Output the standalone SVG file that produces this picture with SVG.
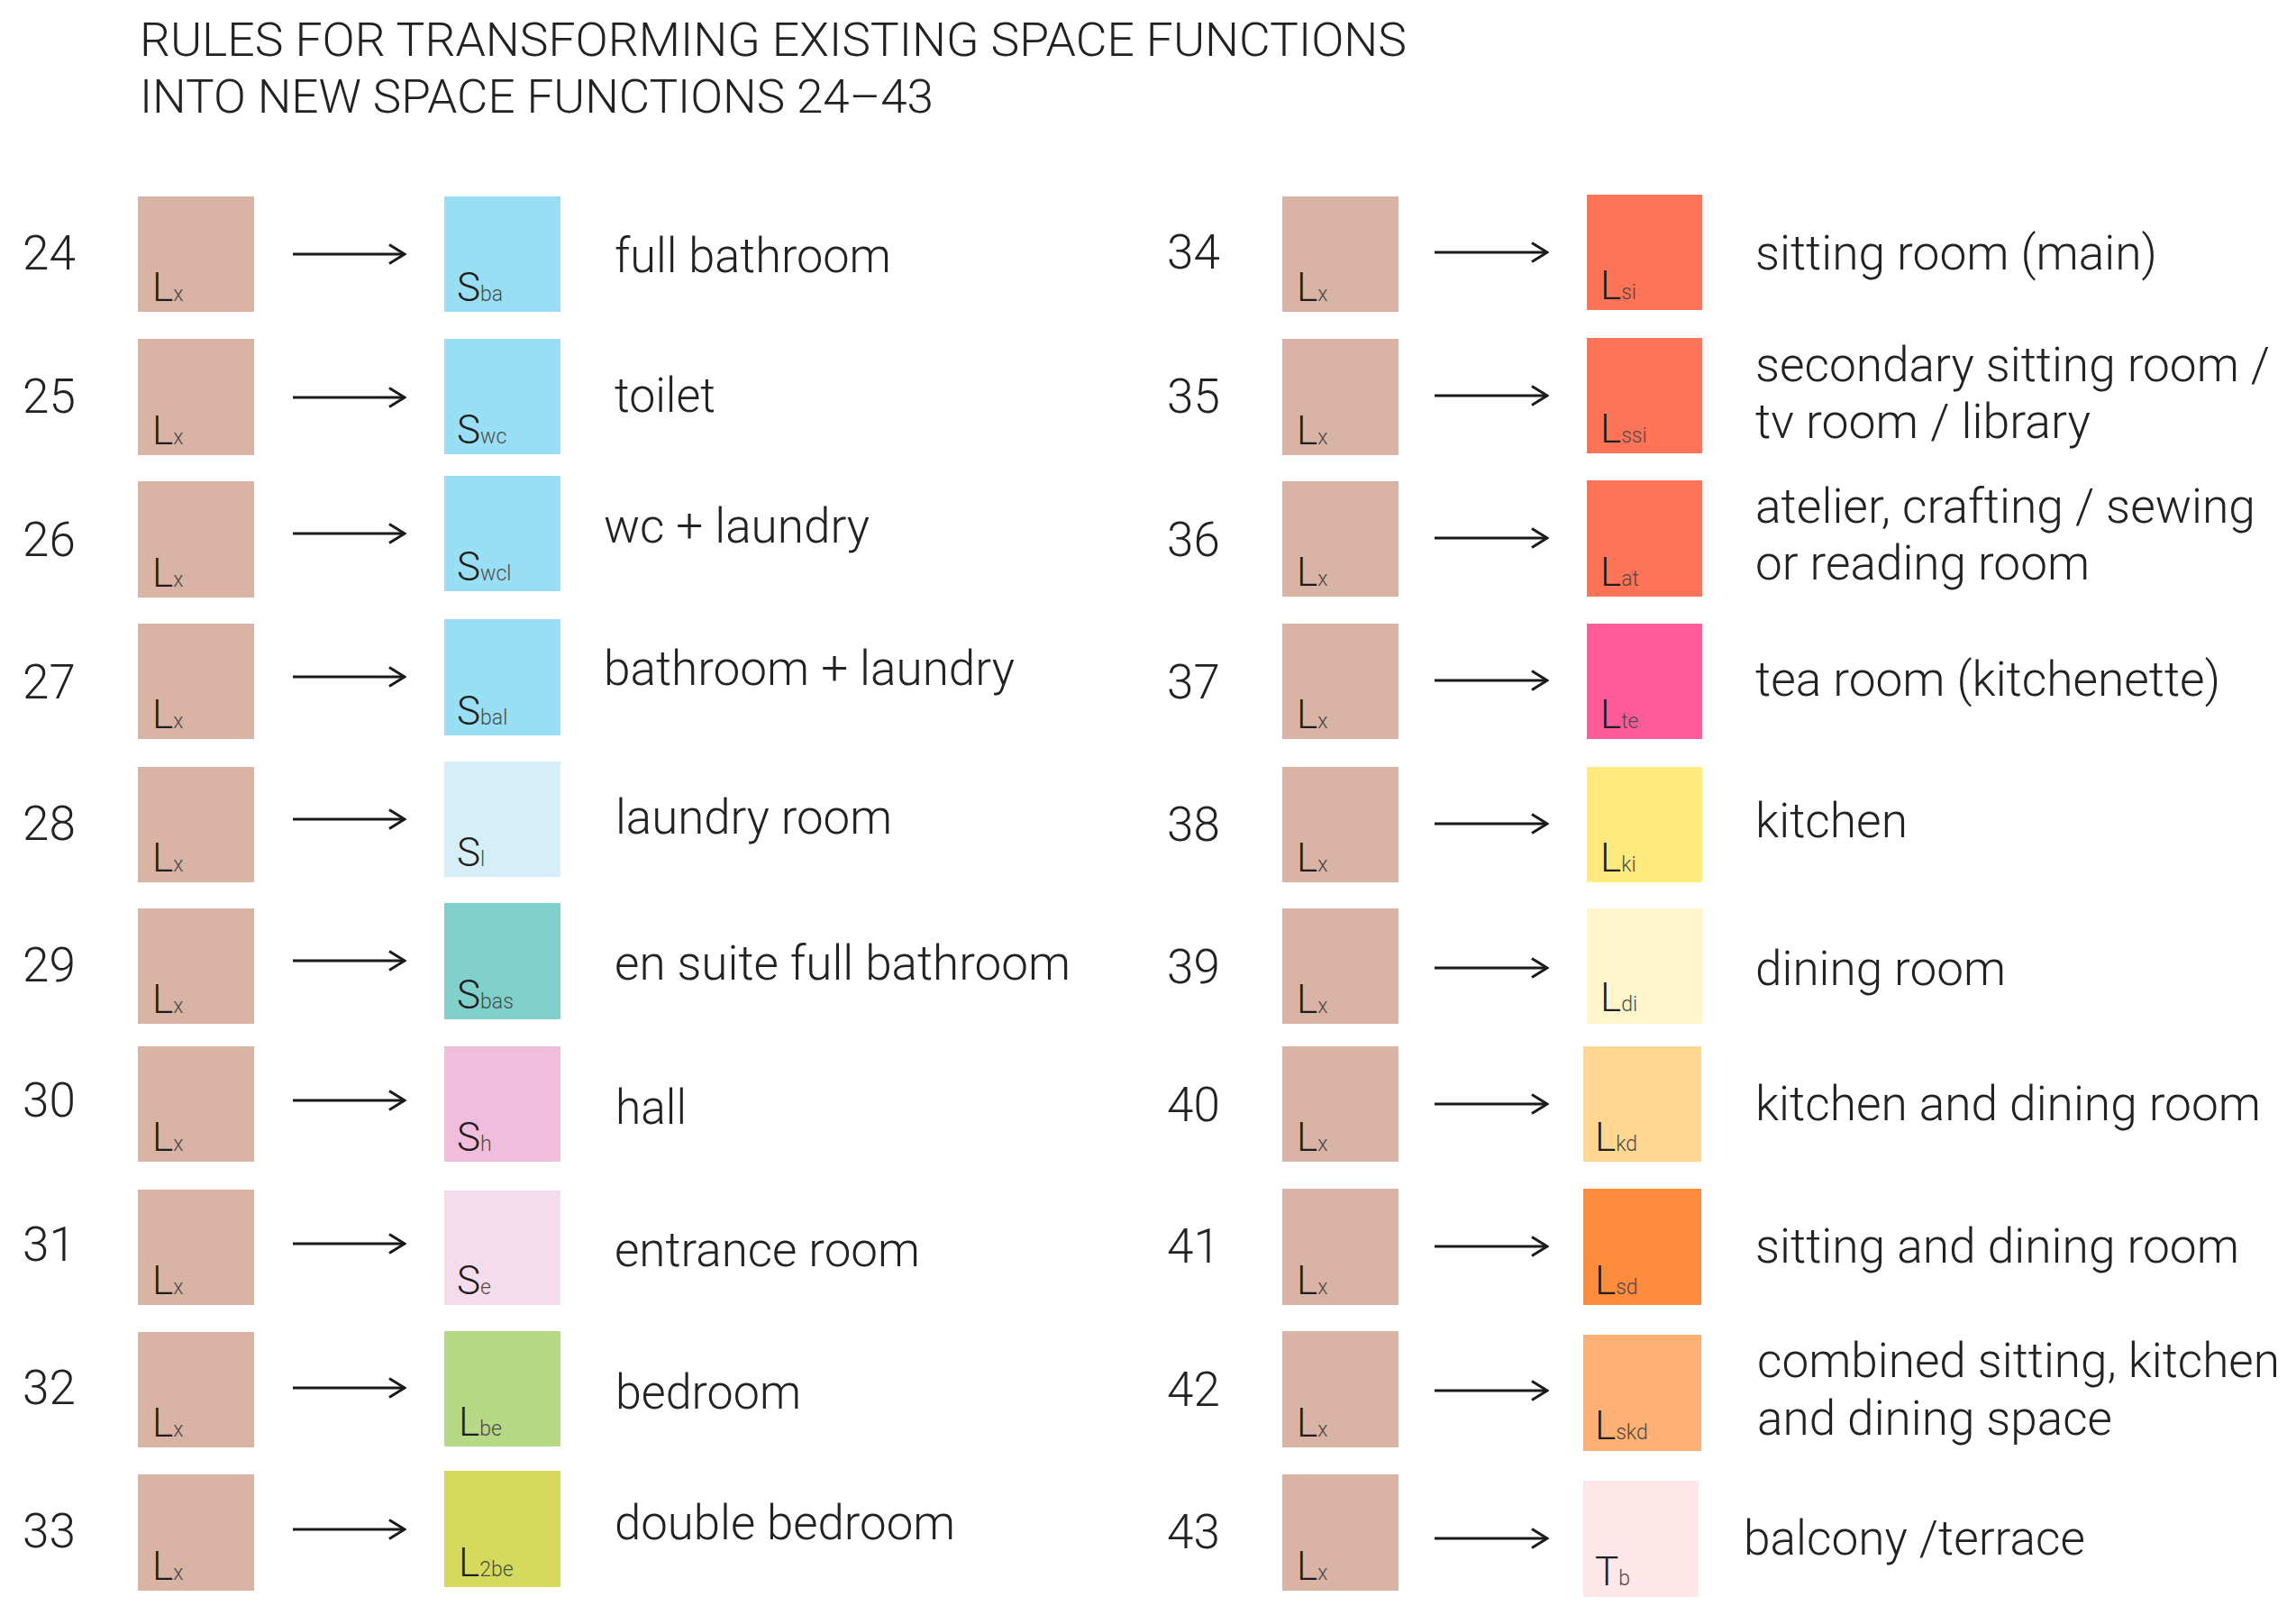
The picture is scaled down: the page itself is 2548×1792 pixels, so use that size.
<svg xmlns="http://www.w3.org/2000/svg" width="2548" height="1792" viewBox="0 0 2548 1792">
<style>
.bg{fill:#ffffff}
.t{font-family:Roboto,"Liberation Sans",sans-serif;font-weight:300;font-size:52px;fill:#222}
.n{font-family:Roboto,"Liberation Sans",sans-serif;font-weight:300;font-size:53px;fill:#222}
.d{font-family:Roboto,"Liberation Sans",sans-serif;font-weight:300;font-size:53px;fill:#222}
.lab{font-family:Roboto,"Liberation Sans",sans-serif;font-weight:300;font-size:44px;fill:#1e1e1e}
.sub{font-size:23px;fill:#4a4a4a}
.lx{fill:#d9b3a3}
.blue{fill:#98dff5}
.arrow{stroke:#1a1a1a;stroke-width:3;fill:none}
</style>
<defs>
<marker id="ah" markerUnits="userSpaceOnUse" viewBox="-20 -13 22 26" refX="0" refY="0" markerWidth="22" markerHeight="26" orient="auto">
<path d="M-17,-10.5 L0,0 L-17,10.5" fill="none" stroke="#1a1a1a" stroke-width="3" stroke-linejoin="miter"/>
</marker>
</defs>
<rect class="bg" x="0" y="0" width="2548" height="1792"/>
<g id="title">
<text class="t" x="155" y="62" textLength="1406" lengthAdjust="spacingAndGlyphs">RULES FOR TRANSFORMING EXISTING SPACE FUNCTIONS</text>
<text class="t" x="155" y="125" textLength="881" lengthAdjust="spacingAndGlyphs">INTO NEW SPACE FUNCTIONS 24–43</text>
</g>
<g id="connectors">
<line class="arrow" x1="325" y1="282" x2="449" y2="282" marker-end="url(#ah)"/>
<line class="arrow" x1="325" y1="441" x2="449" y2="441" marker-end="url(#ah)"/>
<line class="arrow" x1="325" y1="592" x2="449" y2="592" marker-end="url(#ah)"/>
<line class="arrow" x1="325" y1="751" x2="449" y2="751" marker-end="url(#ah)"/>
<line class="arrow" x1="325" y1="909" x2="449" y2="909" marker-end="url(#ah)"/>
<line class="arrow" x1="325" y1="1066" x2="449" y2="1066" marker-end="url(#ah)"/>
<line class="arrow" x1="325" y1="1221" x2="449" y2="1221" marker-end="url(#ah)"/>
<line class="arrow" x1="325" y1="1380" x2="449" y2="1380" marker-end="url(#ah)"/>
<line class="arrow" x1="325" y1="1540" x2="449" y2="1540" marker-end="url(#ah)"/>
<line class="arrow" x1="325" y1="1697" x2="449" y2="1697" marker-end="url(#ah)"/>
<line class="arrow" x1="1592" y1="280" x2="1717" y2="280" marker-end="url(#ah)"/>
<line class="arrow" x1="1592" y1="439" x2="1717" y2="439" marker-end="url(#ah)"/>
<line class="arrow" x1="1592" y1="597" x2="1717" y2="597" marker-end="url(#ah)"/>
<line class="arrow" x1="1592" y1="755" x2="1717" y2="755" marker-end="url(#ah)"/>
<line class="arrow" x1="1592" y1="914" x2="1717" y2="914" marker-end="url(#ah)"/>
<line class="arrow" x1="1592" y1="1074" x2="1717" y2="1074" marker-end="url(#ah)"/>
<line class="arrow" x1="1592" y1="1225" x2="1717" y2="1225" marker-end="url(#ah)"/>
<line class="arrow" x1="1592" y1="1383" x2="1717" y2="1383" marker-end="url(#ah)"/>
<line class="arrow" x1="1592" y1="1543" x2="1717" y2="1543" marker-end="url(#ah)"/>
<line class="arrow" x1="1592" y1="1707" x2="1717" y2="1707" marker-end="url(#ah)"/>
</g>

<g id="rule24">
<text class="n" x="25" y="299">24</text>
<rect class="lx" x="153" y="218" width="129" height="128"/>
<text class="lab" x="169" y="334">L<tspan class="sub">x</tspan></text>
<rect class="blue" x="493" y="218" width="129" height="128"/>
<text class="lab" x="507" y="334">S<tspan class="sub">ba</tspan></text>
<text class="d" x="682" y="302" textLength="307" lengthAdjust="spacingAndGlyphs">full bathroom</text>
</g>
<g id="rule25">
<text class="n" x="25" y="458">25</text>
<rect class="lx" x="153" y="376" width="129" height="129"/>
<text class="lab" x="169" y="493">L<tspan class="sub">x</tspan></text>
<rect class="blue" x="493" y="376" width="129" height="128"/>
<text class="lab" x="507" y="492">S<tspan class="sub">wc</tspan></text>
<text class="d" x="682" y="457" textLength="112" lengthAdjust="spacingAndGlyphs">toilet</text>
</g>
<g id="rule26">
<text class="n" x="25" y="617">26</text>
<rect class="lx" x="153" y="534" width="129" height="129"/>
<text class="lab" x="169" y="651">L<tspan class="sub">x</tspan></text>
<rect class="blue" x="493" y="528" width="129" height="128"/>
<text class="lab" x="507" y="644">S<tspan class="sub">wcl</tspan></text>
<text class="d" x="670" y="602" textLength="295" lengthAdjust="spacingAndGlyphs">wc + laundry</text>
</g>
<g id="rule27">
<text class="n" x="25" y="775">27</text>
<rect class="lx" x="153" y="692" width="129" height="128"/>
<text class="lab" x="169" y="808">L<tspan class="sub">x</tspan></text>
<rect class="blue" x="493" y="687" width="129" height="129"/>
<text class="lab" x="507" y="804">S<tspan class="sub">bal</tspan></text>
<text class="d" x="670" y="760" textLength="456" lengthAdjust="spacingAndGlyphs">bathroom + laundry</text>
</g>
<g id="rule28">
<text class="n" x="25" y="932">28</text>
<rect class="lx" x="153" y="851" width="129" height="128"/>
<text class="lab" x="169" y="967">L<tspan class="sub">x</tspan></text>
<rect x="493" y="845" width="129" height="128" fill="#d5eef8"/>
<text class="lab" x="507" y="961">S<tspan class="sub">l</tspan></text>
<text class="d" x="683" y="925" textLength="307" lengthAdjust="spacingAndGlyphs">laundry room</text>
</g>
<g id="rule29">
<text class="n" x="25" y="1089">29</text>
<rect class="lx" x="153" y="1008" width="129" height="128"/>
<text class="lab" x="169" y="1124">L<tspan class="sub">x</tspan></text>
<rect x="493" y="1002" width="129" height="129" fill="#80d0cb"/>
<text class="lab" x="507" y="1119">S<tspan class="sub">bas</tspan></text>
<text class="d" x="682" y="1087" textLength="506" lengthAdjust="spacingAndGlyphs">en suite full bathroom</text>
</g>
<g id="rule30">
<text class="n" x="25" y="1239">30</text>
<rect class="lx" x="153" y="1161" width="129" height="128"/>
<text class="lab" x="169" y="1277">L<tspan class="sub">x</tspan></text>
<rect x="493" y="1161" width="129" height="128" fill="#f0bedc"/>
<text class="lab" x="507" y="1277">S<tspan class="sub">h</tspan></text>
<text class="d" x="683" y="1247" textLength="79" lengthAdjust="spacingAndGlyphs">hall</text>
</g>
<g id="rule31">
<text class="n" x="25" y="1399">31</text>
<rect class="lx" x="153" y="1320" width="129" height="128"/>
<text class="lab" x="169" y="1436">L<tspan class="sub">x</tspan></text>
<rect x="493" y="1321" width="129" height="127" fill="#f5dcec"/>
<text class="lab" x="507" y="1436">S<tspan class="sub">e</tspan></text>
<text class="d" x="682" y="1405" textLength="339" lengthAdjust="spacingAndGlyphs">entrance room</text>
</g>
<g id="rule32">
<text class="n" x="25" y="1558">32</text>
<rect class="lx" x="153" y="1478" width="129" height="128"/>
<text class="lab" x="169" y="1594">L<tspan class="sub">x</tspan></text>
<rect x="493" y="1477" width="129" height="128" fill="#b6d985"/>
<text class="lab" x="509" y="1593">L<tspan class="sub">be</tspan></text>
<text class="d" x="683" y="1563" textLength="206" lengthAdjust="spacingAndGlyphs">bedroom</text>
</g>
<g id="rule33">
<text class="n" x="25" y="1717">33</text>
<rect class="lx" x="153" y="1636" width="129" height="129"/>
<text class="lab" x="169" y="1753">L<tspan class="sub">x</tspan></text>
<rect x="493" y="1632" width="129" height="129" fill="#d6da5c"/>
<text class="lab" x="509" y="1749">L<tspan class="sub">2be</tspan></text>
<text class="d" x="682" y="1708" textLength="378" lengthAdjust="spacingAndGlyphs">double bedroom</text>
</g>

<g id="rule34">
<text class="n" x="1295" y="298">34</text>
<rect class="lx" x="1423" y="218" width="129" height="128"/>
<text class="lab" x="1439" y="334">L<tspan class="sub">x</tspan></text>
<rect x="1761" y="216" width="128" height="128" fill="#ff7357"/>
<text class="lab" x="1776" y="332">L<tspan class="sub">si</tspan></text>
<text class="d" x="1948" y="299" textLength="446" lengthAdjust="spacingAndGlyphs">sitting room (main)</text>
</g>
<g id="rule35">
<text class="n" x="1295" y="458">35</text>
<rect class="lx" x="1423" y="376" width="129" height="129"/>
<text class="lab" x="1439" y="493">L<tspan class="sub">x</tspan></text>
<rect x="1761" y="375" width="128" height="128" fill="#ff7357"/>
<text class="lab" x="1776" y="491">L<tspan class="sub">ssi</tspan></text>
<text class="d" x="1948" y="423" textLength="571" lengthAdjust="spacingAndGlyphs">secondary sitting room /</text>
<text class="d" x="1948" y="486" textLength="372" lengthAdjust="spacingAndGlyphs">tv room / library</text>
</g>
<g id="rule36">
<text class="n" x="1295" y="617">36</text>
<rect class="lx" x="1423" y="534" width="129" height="128"/>
<text class="lab" x="1439" y="650">L<tspan class="sub">x</tspan></text>
<rect x="1761" y="533" width="128" height="129" fill="#ff7357"/>
<text class="lab" x="1776" y="650">L<tspan class="sub">at</tspan></text>
<text class="d" x="1948" y="580" textLength="555" lengthAdjust="spacingAndGlyphs">atelier, crafting / sewing</text>
<text class="d" x="1948" y="643" textLength="371" lengthAdjust="spacingAndGlyphs">or reading room</text>
</g>
<g id="rule37">
<text class="n" x="1295" y="775">37</text>
<rect class="lx" x="1423" y="692" width="129" height="128"/>
<text class="lab" x="1439" y="808">L<tspan class="sub">x</tspan></text>
<rect x="1761" y="692" width="128" height="128" fill="#ff5b98"/>
<text class="lab" x="1776" y="808">L<tspan class="sub">te</tspan></text>
<text class="d" x="1948" y="772" textLength="516" lengthAdjust="spacingAndGlyphs">tea room (kitchenette)</text>
</g>
<g id="rule38">
<text class="n" x="1295" y="933">38</text>
<rect class="lx" x="1423" y="851" width="129" height="128"/>
<text class="lab" x="1439" y="967">L<tspan class="sub">x</tspan></text>
<rect x="1761" y="851" width="128" height="128" fill="#ffea7d"/>
<text class="lab" x="1776" y="967">L<tspan class="sub">ki</tspan></text>
<text class="d" x="1948" y="929" textLength="169" lengthAdjust="spacingAndGlyphs">kitchen</text>
</g>
<g id="rule39">
<text class="n" x="1295" y="1091">39</text>
<rect class="lx" x="1423" y="1008" width="129" height="128"/>
<text class="lab" x="1439" y="1124">L<tspan class="sub">x</tspan></text>
<rect x="1761" y="1008" width="128" height="128" fill="#fff5cb"/>
<text class="lab" x="1776" y="1122">L<tspan class="sub">di</tspan></text>
<text class="d" x="1948" y="1093" textLength="278" lengthAdjust="spacingAndGlyphs">dining room</text>
</g>
<g id="rule40">
<text class="n" x="1295" y="1244">40</text>
<rect class="lx" x="1423" y="1161" width="129" height="128"/>
<text class="lab" x="1439" y="1277">L<tspan class="sub">x</tspan></text>
<rect x="1757" y="1161" width="131" height="128" fill="#ffd791"/>
<text class="lab" x="1770" y="1277">L<tspan class="sub">kd</tspan></text>
<text class="d" x="1948" y="1243" textLength="561" lengthAdjust="spacingAndGlyphs">kitchen and dining room</text>
</g>
<g id="rule41">
<text class="n" x="1295" y="1401">41</text>
<rect class="lx" x="1423" y="1319" width="129" height="129"/>
<text class="lab" x="1439" y="1436">L<tspan class="sub">x</tspan></text>
<rect x="1757" y="1319" width="131" height="129" fill="#ff8b3d"/>
<text class="lab" x="1770" y="1436">L<tspan class="sub">sd</tspan></text>
<text class="d" x="1948" y="1401" textLength="537" lengthAdjust="spacingAndGlyphs">sitting and dining room</text>
</g>
<g id="rule42">
<text class="n" x="1295" y="1560">42</text>
<rect class="lx" x="1423" y="1477" width="129" height="129"/>
<text class="lab" x="1439" y="1594">L<tspan class="sub">x</tspan></text>
<rect x="1757" y="1481" width="131" height="129" fill="#ffb072"/>
<text class="lab" x="1770" y="1597">L<tspan class="sub">skd</tspan></text>
<text class="d" x="1950" y="1528" textLength="580" lengthAdjust="spacingAndGlyphs">combined sitting, kitchen</text>
<text class="d" x="1950" y="1592" textLength="394" lengthAdjust="spacingAndGlyphs">and dining space</text>
</g>
<g id="rule43">
<text class="n" x="1295" y="1718">43</text>
<rect class="lx" x="1423" y="1636" width="129" height="129"/>
<text class="lab" x="1439" y="1753">L<tspan class="sub">x</tspan></text>
<rect x="1757" y="1643" width="128" height="129" fill="#ffe6e9"/>
<text class="lab" x="1770" y="1759">T<tspan class="sub">b</tspan></text>
<text class="d" x="1935" y="1725" textLength="379" lengthAdjust="spacingAndGlyphs">balcony /terrace</text>
</g>
</svg>
